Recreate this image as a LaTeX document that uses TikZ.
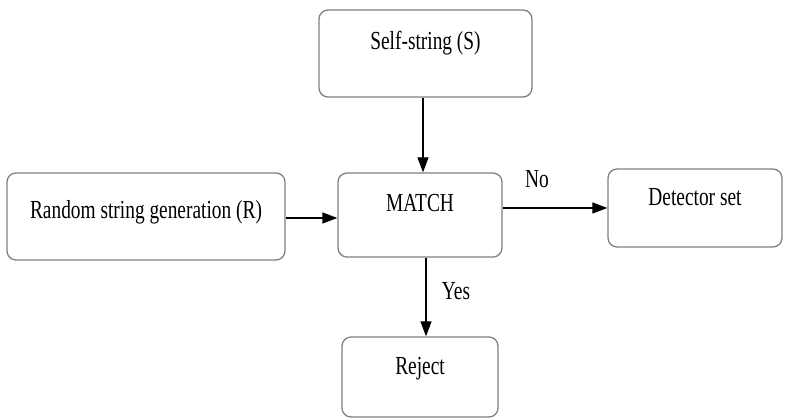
\documentclass[tikz,border=0pt]{standalone}
\usepackage{fontspec}
\setmainfont{Liberation Serif}[FakeStretch=0.745]
\usetikzlibrary{arrows.meta}
\begin{document}
\begin{tikzpicture}[x=1pt,y=1pt,
  box/.style={draw=black!50, line width=1.3pt, rounded corners=9pt, inner sep=0pt,
    font=\fontsize{26}{28}\selectfont, fill=white},
  lbl/.style={inner sep=0pt, anchor=base, font=\fontsize{26}{28}\selectfont},
  arr/.style={line width=1.3pt, -{Triangle[length=15pt,width=11pt]}}]
\useasboundingbox (0,0) rectangle (786,419);
\node[box, minimum width=213pt, text height=40pt, text depth=47pt] (self) at (425.5,365.5) {Self-string (S)};
\node[box, minimum width=278pt, text height=46pt, text depth=41pt] (rand) at (146,202.5) {Random string generation (R)};
\node[box, minimum width=164pt, text height=39pt, text depth=45pt] (match) at (420,204) {MATCH};
\node[box, minimum width=174pt, text height=37pt, text depth=41pt] (det) at (695,211) {Detector set};
\node[box, minimum width=156pt, text height=38pt, text depth=42pt] (rej) at (420,42) {Reject};
\draw[arr] (self.south -| 423,0) -- (match.north -| 423,0);
\draw[arr] (rand.east |- 0,201) -- (match.west |- 0,201);
\draw[arr] (match.east |- 0,211) -- (det.west |- 0,211);
\draw[arr] (match.south -| 426,0) -- (rej.north -| 426,0);
\node[lbl] (no) at (537,231) {No};
\node[lbl] (yes) at (456,119) {Yes};
\end{tikzpicture}
\end{document}
